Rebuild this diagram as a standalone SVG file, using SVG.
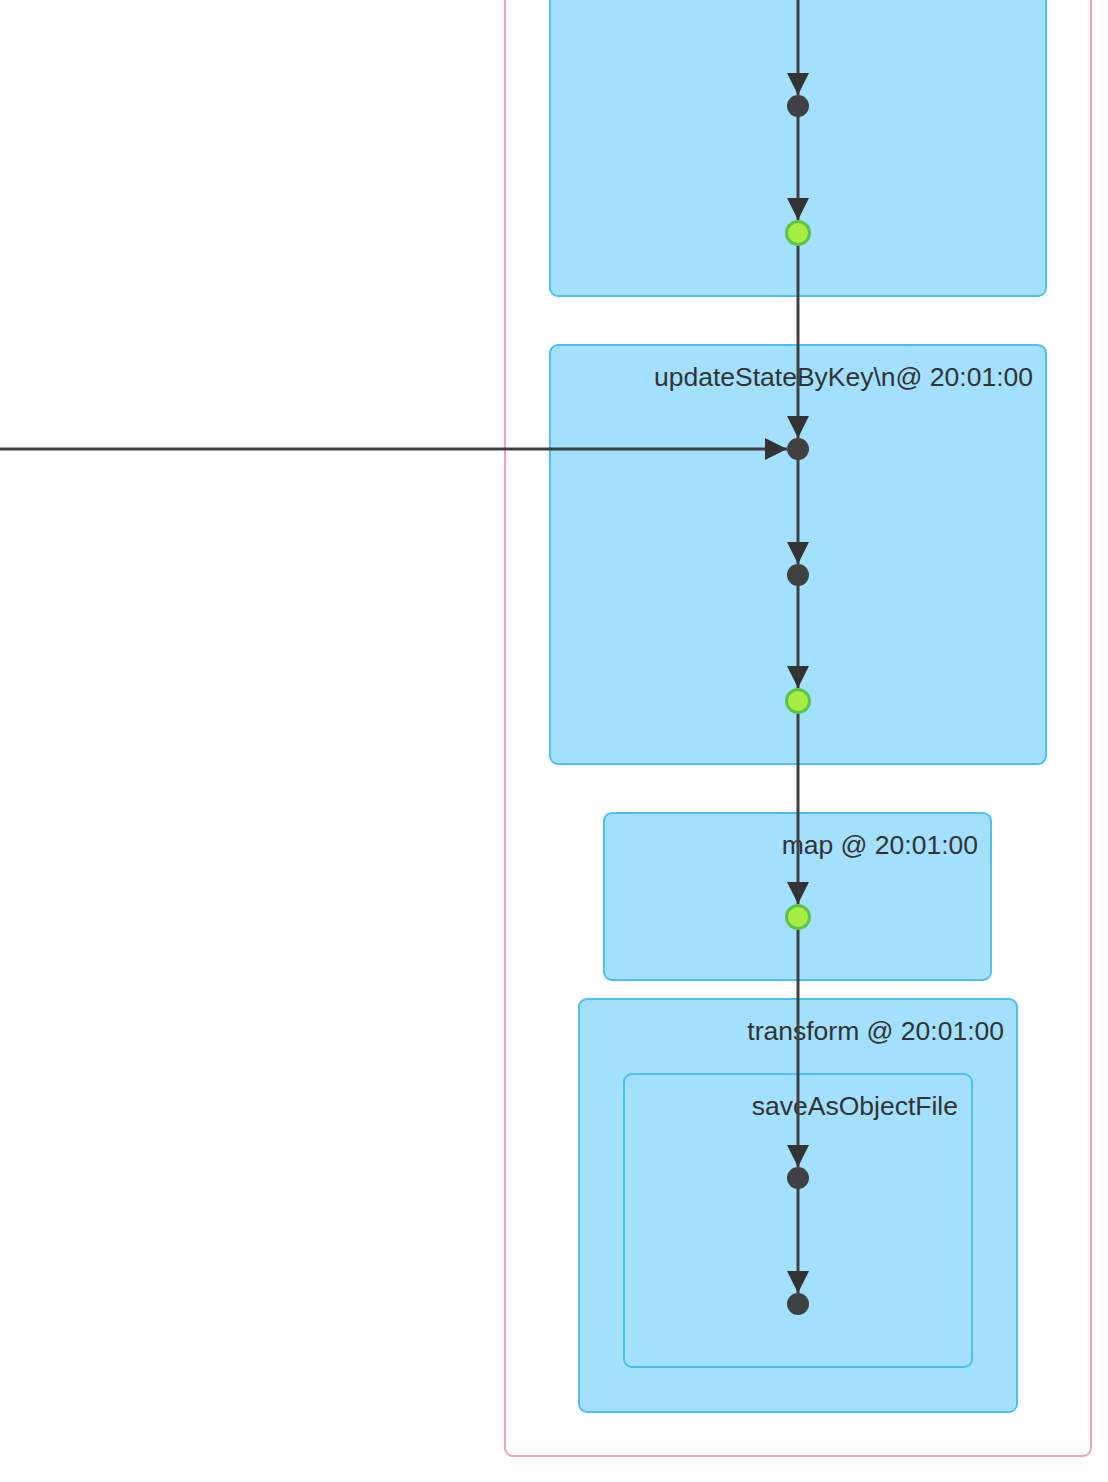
<svg xmlns="http://www.w3.org/2000/svg" width="1108" height="1482" viewBox="0 0 1108 1482">
<style>
.bg{fill:#fefefe}
.outer{fill:none;stroke:#f4a3b1;stroke-width:2}
.box{fill:#a2e0fd;stroke:#4dbff0;stroke-width:2}
.lbl{font-family:"Liberation Sans",Arial,sans-serif;font-size:26.5px;fill:#333;text-anchor:end}
.dot{fill:#404040}
.op{fill:#a8ee42;stroke:#5cc44a;stroke-width:3}
.edge{fill:none;stroke:#404040;stroke-width:3}
</style>
<defs>
<marker id="arr" markerUnits="userSpaceOnUse" markerWidth="22" markerHeight="22" viewBox="0 0 20 20" refX="20" refY="10" orient="auto">
<path d="M0,0 L20,10 L0,20 Z" fill="#333"/>
</marker>
</defs>
<rect class="bg" x="0" y="0" width="1108" height="1482"/>
<g id="cluster-outer"><rect class="outer" x="505" y="-400" width="586" height="1856" rx="8"/></g>
<g id="cluster-top"><rect class="box" x="550" y="-300" width="496" height="596" rx="8"/></g>
<g id="cluster-updateStateByKey"><rect class="box" x="550" y="345" width="496" height="419" rx="8"/><text class="lbl" x="1033" y="386">updateStateByKey\n@ 20:01:00</text></g>
<g id="cluster-map"><rect class="box" x="604" y="813" width="387" height="167" rx="8"/><text class="lbl" x="978" y="854">map @ 20:01:00</text></g>
<g id="cluster-transform"><rect class="box" x="579" y="999" width="438" height="413" rx="8"/><text class="lbl" x="1004" y="1040">transform @ 20:01:00</text></g>
<g id="cluster-saveAsObjectFile"><rect class="box" x="624" y="1074" width="348" height="293" rx="8"/><text class="lbl" x="958" y="1115">saveAsObjectFile</text></g>
<g id="edges">
<line class="edge" x1="798" y1="0" x2="798" y2="95" marker-end="url(#arr)"/>
<line class="edge" x1="798" y1="106" x2="798" y2="220" marker-end="url(#arr)"/>
<line class="edge" x1="798" y1="233" x2="798" y2="438" marker-end="url(#arr)"/>
<line class="edge" x1="0" y1="449" x2="787" y2="449" marker-end="url(#arr)"/>
<line class="edge" x1="798" y1="449" x2="798" y2="564" marker-end="url(#arr)"/>
<line class="edge" x1="798" y1="575" x2="798" y2="688" marker-end="url(#arr)"/>
<line class="edge" x1="798" y1="701" x2="798" y2="904" marker-end="url(#arr)"/>
<line class="edge" x1="798" y1="917" x2="798" y2="1167" marker-end="url(#arr)"/>
<line class="edge" x1="798" y1="1178" x2="798" y2="1293" marker-end="url(#arr)"/>
</g>
<g id="n1"><circle class="dot" cx="798" cy="106" r="11"/></g>
<g id="n2"><circle class="op" cx="798" cy="233" r="11.5"/></g>
<g id="n3"><circle class="dot" cx="798" cy="449" r="11"/></g>
<g id="n4"><circle class="dot" cx="798" cy="575" r="11"/></g>
<g id="n5"><circle class="op" cx="798" cy="701" r="11.5"/></g>
<g id="n6"><circle class="op" cx="798" cy="917" r="11.5"/></g>
<g id="n7"><circle class="dot" cx="798" cy="1178" r="11"/></g>
<g id="n8"><circle class="dot" cx="798" cy="1304" r="11"/></g>
</svg>
